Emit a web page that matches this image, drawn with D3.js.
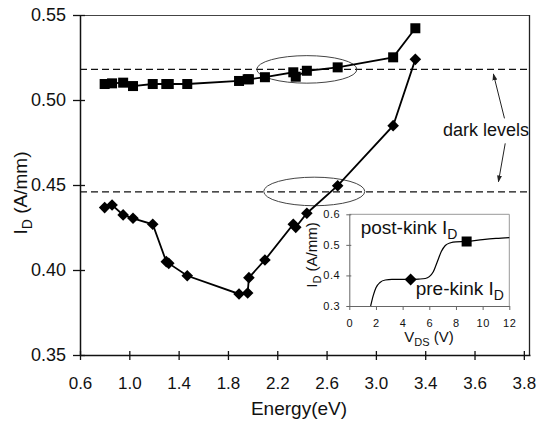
<!DOCTYPE html>
<html><head><meta charset="utf-8">
<script src="https://cdn.jsdelivr.net/npm/d3@7"></script>
<style>body{margin:0;background:#fff}svg{display:block;font-family:Arial,"Liberation Sans",sans-serif}</style>
</head><body><svg id="c" width="538" height="421"></svg>
<script>
// ---- data ----
const energy   = [0.80,0.86,0.95,1.03,1.19,1.30,1.32,1.47,1.89,1.96,1.97,2.10,2.33,2.35,2.44,2.69,3.14,3.32];
const postKink = [0.5094,0.5098,0.5102,0.5082,0.5094,0.5094,0.5094,0.5094,0.5112,0.5122,0.5122,0.5134,0.5163,0.5137,0.5172,0.5192,0.5251,0.5422];
const preKink  = [0.4367,0.4382,0.4324,0.4304,0.4269,0.4049,0.4039,0.3966,0.3859,0.3865,0.3955,0.4059,0.4269,0.4251,0.4334,0.4496,0.4849,0.5239];
const darkLevels = [0.518, 0.446];
const xTickValues = [0.6,1.0,1.4,1.8,2.2,2.6,3.0,3.4,3.8,4.2];
const xTickLabels = ["0.6","1.0","1.4","1.8","2.2","2.6","3.0","3.4","3.6","3.8"];
const yTickValues = [0.35,0.40,0.45,0.50,0.55];
// inset I-V curve
const vds    = [1.6,1.8,2.0,2.3,2.7,3.2,4.0,4.6,5.2,5.7,6.0,6.3,6.6,6.9,7.2,7.6,8.0,8.8,10,11,12];
const idCurve= [0.300,0.335,0.360,0.377,0.385,0.387,0.387,0.387,0.388,0.390,0.396,0.412,0.445,0.478,0.498,0.507,0.510,0.511,0.517,0.521,0.524];
const preKinkPoint  = [4.6, 0.387];
const postKinkPoint = [8.8, 0.511];
const insetXTicks = [0,2,4,6,8,10,12];
const insetYTicks = [0.3,0.4,0.5,0.6];

const svg = d3.select("#c");
const x = d3.scaleLinear().domain([0.6, 4.25]).range([80, 530]);
const y = d3.scaleLinear().domain([0.35, 0.55]).range([355, 15]);

// frame top/right
svg.append("line").attr("x1",80).attr("x2",530).attr("y1",15.5).attr("y2",15.5).attr("stroke","#444");
svg.append("line").attr("x1",529.5).attr("x2",529.5).attr("y1",15).attr("y2",355).attr("stroke","#222").attr("stroke-width",1.3);

// axes
const ya = svg.append("g").attr("transform","translate(80,0)")
  .call(d3.axisLeft(y).tickValues(yTickValues).tickFormat(d3.format(".2f")).tickSize(7).tickPadding(7).tickSizeOuter(0));
ya.selectAll(".tick line").attr("x1",5);
ya.selectAll("text").attr("font-size",18).attr("font-family","Arial,'Liberation Sans',sans-serif").attr("fill","#111");
const xa = svg.append("g").attr("transform","translate(0,355)")
  .call(d3.axisBottom(x).tickValues(xTickValues).tickFormat((d,i)=>xTickLabels[i]).tickSize(5).tickSizeOuter(0));
xa.selectAll(".tick line").attr("y1",-4);
xa.selectAll("text").attr("y",22).attr("font-size",17).attr("font-family","Arial,'Liberation Sans',sans-serif").attr("fill","#111");
[ya,xa].forEach(g=>{g.select(".domain").attr("stroke","#111").attr("stroke-width",1.5);g.selectAll(".tick line").attr("stroke","#111").attr("stroke-width",1.3);});

// titles
svg.append("text").attr("x",299).attr("y",415).attr("text-anchor","middle").attr("font-size",19).attr("fill","#111").text("Energy(eV)");
const yt = svg.append("text").attr("transform","translate(27,193) rotate(-90)").attr("text-anchor","middle").attr("font-size",19).attr("fill","#111");
yt.append("tspan").text("I");
yt.append("tspan").attr("font-size",14).attr("dy",5).text("D");
yt.append("tspan").attr("dy",-5).text(" (A/mm)");

// dark level dashed lines
svg.selectAll(".dark").data(darkLevels).join("line")
  .attr("x1",80).attr("x2",530).attr("y1",d=>y(d)).attr("y2",d=>y(d))
  .attr("stroke","#111").attr("stroke-width",1.2).attr("stroke-dasharray","7,4");

// ellipses
const ell = [{e:2.44,i:0.518,re:0.406,ri:0.0081},{e:2.50,i:0.4462,re:0.41,ri:0.0084}];
svg.selectAll(".ell").data(ell).join("ellipse")
  .attr("cx",d=>x(d.e)).attr("cy",d=>y(d.i))
  .attr("rx",d=>x(d.e+d.re)-x(d.e)).attr("ry",d=>y(d.i-d.ri)-y(d.i))
  .attr("fill","none").attr("stroke","#444").attr("stroke-width",1);

// lines
const line = d3.line().x(d=>x(d[0])).y(d=>y(d[1]));
const sq = energy.map((e,i)=>[e,postKink[i]]);
const dm = energy.map((e,i)=>[e,preKink[i]]);
svg.append("path").datum(sq).attr("d",line).attr("fill","none").attr("stroke","#000").attr("stroke-width",1.8);
svg.append("path").datum(dm).attr("d",line).attr("fill","none").attr("stroke","#000").attr("stroke-width",1.8);
svg.selectAll(".sq").data(sq).join("rect")
  .attr("x",d=>x(d[0])-5).attr("y",d=>y(d[1])-5).attr("width",10).attr("height",10).attr("fill","#000");
const diamond = r => `M0,${-r}L${r},0L0,${r}L${-r},0Z`;
svg.selectAll(".dm").data(dm).join("path")
  .attr("transform",d=>`translate(${x(d[0])},${y(d[1])})`).attr("d",diamond(5.8)).attr("fill","#000");

// arrows + dark levels text
const defs = svg.append("defs");
defs.append("marker").attr("id","ah").attr("viewBox","0 0 10 10").attr("refX",9).attr("refY",5)
  .attr("markerWidth",7).attr("markerHeight",7).attr("orient","auto")
  .append("path").attr("d","M0,1.5L10,5L0,8.5Z").attr("fill","#222");
const arrows = [{e1:4.043,i1:0.4892,e2:3.953,i2:0.5153},{e1:4.049,i1:0.4745,e2:3.994,i2:0.4519}];
svg.selectAll(".arr").data(arrows).join("line")
  .attr("x1",d=>x(d.e1)).attr("y1",d=>y(d.i1)).attr("x2",d=>x(d.e2)).attr("y2",d=>y(d.i2))
  .attr("stroke","#222").attr("stroke-width",1).attr("marker-end","url(#ah)");
svg.append("text").attr("x",x(3.894)).attr("y",y(0.4788)).attr("text-anchor","middle").attr("font-size",18).attr("fill","#111").text("dark levels");

// ---- inset ----
const ix = d3.scaleLinear().domain([0,12]).range([349.3,509.3]);
const iy = d3.scaleLinear().domain([0.3,0.6]).range([306,214.3]);
const ins = svg.append("g");
ins.append("line").attr("x1",ix(0)).attr("x2",ix(12)).attr("y1",iy(0.6)).attr("y2",iy(0.6)).attr("stroke","#999");
ins.append("line").attr("x1",ix(12)).attr("x2",ix(12)).attr("y1",iy(0.6)).attr("y2",iy(0.3)).attr("stroke","#999");
const iya = ins.append("g").attr("transform",`translate(${ix(0)},0)`)
  .call(d3.axisLeft(iy).tickValues(insetYTicks).tickFormat(d3.format(".1f")).tickSize(3).tickPadding(6).tickSizeOuter(0));
iya.selectAll(".tick line").attr("x1",2);
const ixa = ins.append("g").attr("transform",`translate(0,${iy(0.3)})`)
  .call(d3.axisBottom(ix).tickValues(insetXTicks).tickSize(4).tickSizeOuter(0));
ixa.selectAll("text").attr("y",13);
[iya,ixa].forEach(g=>{
  g.select(".domain").attr("stroke","#666");
  g.selectAll(".tick line").attr("stroke","#666");
  g.selectAll("text").attr("font-size",11).attr("letter-spacing",0.6).attr("font-family","Arial,'Liberation Sans',sans-serif").attr("fill","#111");
});
const iline = d3.line().x(d=>ix(d[0])).y(d=>iy(d[1])).curve(d3.curveMonotoneX);
ins.append("path").datum(vds.map((v,i)=>[v,idCurve[i]])).attr("d",iline).attr("fill","none").attr("stroke","#000").attr("stroke-width",1.2);
ins.append("path").attr("transform",`translate(${ix(preKinkPoint[0])},${iy(preKinkPoint[1])})`).attr("d",diamond(6)).attr("fill","#000");
ins.append("rect").attr("x",ix(postKinkPoint[0])-5).attr("y",iy(postKinkPoint[1])-5).attr("width",10).attr("height",10).attr("fill","#000");

const ixt = ins.append("text").attr("x",429).attr("y",341.7).attr("text-anchor","middle").attr("font-size",15).attr("fill","#111");
ixt.append("tspan").text("V");
ixt.append("tspan").attr("font-size",11).attr("dy",4).text("DS");
ixt.append("tspan").attr("dy",-4).text(" (V)");
const iyt = ins.append("text").attr("transform","translate(317,255) rotate(-90)").attr("text-anchor","middle").attr("font-size",15).attr("fill","#111");
iyt.append("tspan").text("I");
iyt.append("tspan").attr("font-size",11).attr("dy",4).text("D");
iyt.append("tspan").attr("dy",-4).text(" (A/mm)");

function labelWithSub(g, px, py, main){
  const t = g.append("text").attr("x",px).attr("y",py).attr("font-size",19).attr("fill","#111");
  t.append("tspan").text(main);
  t.append("tspan").attr("font-size",14).attr("dy",5).text("D");
}
labelWithSub(ins, ix(0.855), iy(0.535), "post-kink I");
labelWithSub(ins, ix(4.98), iy(0.336), "pre-kink I");
</script></body></html>
